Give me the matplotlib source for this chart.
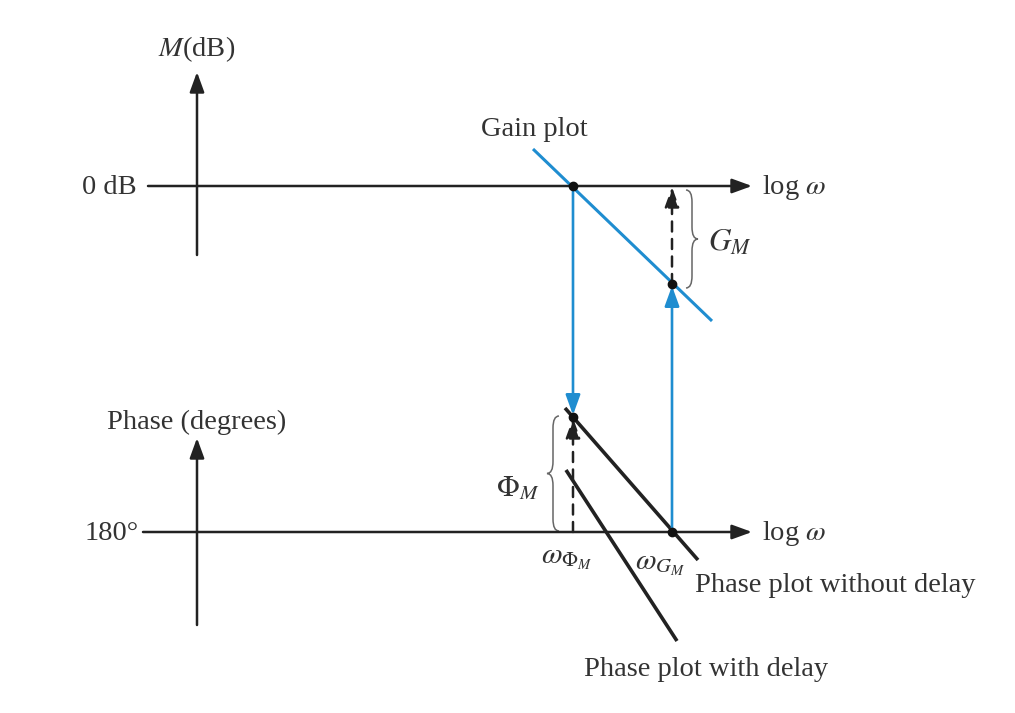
import matplotlib
matplotlib.use("Agg")
import matplotlib.pyplot as plt
from matplotlib.path import Path
from matplotlib.patches import PathPatch

plt.rcParams['font.family'] = ['Liberation Serif', 'DejaVu Serif']
plt.rcParams['mathtext.fontset'] = 'stix'

# schematic geometry (picture units, y downward)
axis_x = 197
zero_db_y = 186
phase_180_y = 532
h_axis_start = [148, 143]
h_axis_end = 752
mag_axis_y = [255, 72]
phase_axis_y = [625, 438]

gain_x = [533, 712]
gain_y = [149, 321]
phase_nodelay_x = [565, 698]
phase_nodelay_y = [408, 560]
phase_delay_x = [566, 677]
phase_delay_y = [470, 641]

w_phi = 573          # gain crossover
w_gm = 672           # phase crossover
gain_at_wgm = 284
phase_at_wphi = 417

ink = '#222222'
txt = '#333333'
blue = '#1f8dd0'

fig = plt.figure(figsize=(10.15, 7.13), dpi=100)
ax = fig.add_axes([0, 0, 1, 1])
ax.set_xlim(0, 1015)
ax.set_ylim(713, 0)
ax.axis('off')


def arrow(x0, y0, x1, y1, color=ink, ls='-', lw=1.8, scale=22):
    ax.annotate('', xy=(x1, y1), xytext=(x0, y0),
                arrowprops=dict(arrowstyle='-|>,head_length=0.55,head_width=0.2',
                                color=color, lw=lw, ls=ls,
                                mutation_scale=scale, shrinkA=0, shrinkB=0))


def brace(x, y0, y1, w, color='#666666'):
    ym = (y0 + y1) / 2
    r = min(12, (y1 - y0) / 6)
    verts = [(x, y0), (x + w / 2, y0), (x + w / 2, y0 + r),
             (x + w / 2, ym - r),
             (x + w / 2, ym), (x + w, ym),
             (x + w / 2, ym), (x + w / 2, ym + r),
             (x + w / 2, y1 - r),
             (x + w / 2, y1), (x, y1)]
    codes = [Path.MOVETO, Path.CURVE3, Path.CURVE3, Path.LINETO,
             Path.CURVE3, Path.CURVE3, Path.CURVE3, Path.CURVE3,
             Path.LINETO, Path.CURVE3, Path.CURVE3]
    ax.add_patch(PathPatch(Path(verts, codes), fill=False, edgecolor=color, lw=1.1))


# axes
arrow(axis_x, mag_axis_y[0], axis_x, mag_axis_y[1])
arrow(h_axis_start[0], zero_db_y, h_axis_end, zero_db_y)
arrow(axis_x, phase_axis_y[0], axis_x, phase_axis_y[1])
arrow(h_axis_start[1], phase_180_y, h_axis_end, phase_180_y)

fs = 20.5
ax.text(axis_x, 49, '$M$(dB)', ha='center', va='center', fontsize=fs, color=txt)
ax.text(137, zero_db_y + 2, '0 dB', ha='right', va='center', fontsize=fs, color=txt)
ax.text(762, zero_db_y + 2, r'log $\omega$', ha='left', va='center', fontsize=fs, color=txt)
ax.text(axis_x, 422, 'Phase (degrees)', ha='center', va='center', fontsize=fs, color=txt)
ax.text(139, phase_180_y + 2, '180°', ha='right', va='center', fontsize=fs, color=txt)
ax.text(762, phase_180_y + 2, r'log $\omega$', ha='left', va='center', fontsize=fs, color=txt)

# gain plot
ax.plot(gain_x, gain_y, color=blue, lw=2.2, solid_capstyle='butt')
ax.text(534, 129, 'Gain plot', ha='center', va='center', fontsize=fs, color=txt)

# phase plots
ax.plot(phase_nodelay_x, phase_nodelay_y, color=ink, lw=2.6, solid_capstyle='butt')
ax.plot(phase_delay_x, phase_delay_y, color=ink, lw=2.6, solid_capstyle='butt')
ax.text(695, 585, 'Phase plot without delay', ha='left', va='center', fontsize=fs, color=txt)
ax.text(706, 670, 'Phase plot with delay', ha='center', va='center', fontsize=fs, color=txt)

# projections
arrow(w_phi, zero_db_y, w_phi, phase_at_wphi - 2, color=blue, lw=1.9, scale=22)
arrow(w_gm, phase_180_y, w_gm, gain_at_wgm + 2, color=blue, lw=1.9, scale=22)
arrow(w_gm, gain_at_wgm, w_gm, zero_db_y + 1, ls=(0, (4, 3)), lw=1.8, scale=22)
arrow(w_phi, phase_180_y, w_phi, phase_at_wphi + 1, ls=(0, (4, 3)), lw=1.8, scale=22)

ax.plot([w_phi, w_gm, w_phi, w_gm], [zero_db_y, gain_at_wgm, phase_at_wphi, phase_180_y],
        'o', color='#111111', ms=6, zorder=5)

# margins
brace(686, 190, 288, 12)
ax.text(708, 243, '$G_M$', ha='left', va='center', fontsize=fs + 2, color=txt)
brace(559, 416, 531, -12)
ax.text(518, 488, r'$\Phi_M$', ha='center', va='center', fontsize=fs + 1, color=txt)

ax.text(567, 559, r'$\omega_{\Phi_M}$', ha='center', va='center', fontsize=fs + 1, color=txt)
ax.text(660, 565, r'$\omega_{G_M}$', ha='center', va='center', fontsize=fs + 1, color=txt)

fig.savefig('out.png', dpi=100, facecolor='white')
